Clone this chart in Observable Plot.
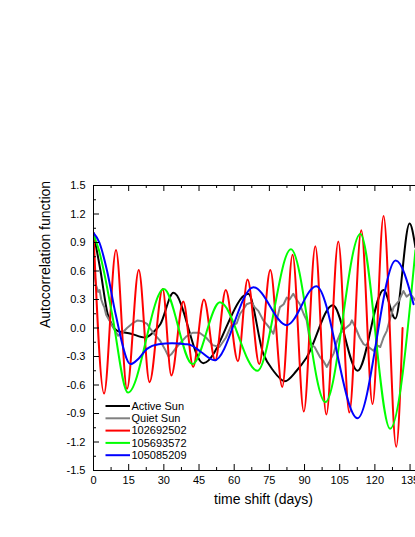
<!DOCTYPE html>
<html>
<head>
<meta charset="utf-8">
<script src="https://cdn.jsdelivr.net/npm/d3@7"></script>
<script src="https://cdn.jsdelivr.net/npm/@observablehq/plot@0.6"></script>
<style>
  html, body { margin: 0; padding: 0; background: #fff; overflow: hidden; }
  #chart svg { display: block; max-width: none !important; }
</style>
</head>
<body>
<div id="chart"></div>
<script>
// ---- Series: time shift (days) and autocorrelation values ----
const activeDays = [0, 3.0, 6.0, 8.0, 10.2, 16.0, 22.0, 25.7, 28.5, 34.1, 46.8, 66.0, 72.4, 76.7, 81.6, 86.6, 90.9, 102.1, 112.6, 123.7, 128.7, 134.8, 137.3];
const activeVals = [1.0, 0.6, 0.15, 0.03, -0.03, -0.06, -0.10, -0.04, 0.04, 0.37, -0.37, 0.36, -0.27, -0.45, -0.56, -0.45, -0.31, 0.24, -0.45, 0.40, 0.10, 1.10, 0.85];

const quietDays = [0, 0.5, 1.1, 2.0, 2.6, 3.3, 4.0, 4.6, 5.4, 6.3, 7.0, 8.5, 10.5, 12.3, 14.3, 16.7, 18.8, 20.9, 23.0, 24.0, 26.1, 28.3, 30.4, 32.0, 33.4, 35.2, 37.3, 39.5, 42.3, 45.2, 48.0, 50.8, 53.7, 56.5, 58.6, 61.1, 62.5, 64.0, 65.3, 67.4, 68.7, 70.3, 72.4, 73.8, 75.1, 76.7, 78.1, 79.5, 81.1, 82.4, 83.6, 85.2, 86.6, 88.0, 89.6, 90.9, 92.5, 94.3, 96.7, 98.1, 99.5, 101.1, 102.4, 103.7, 105.2, 106.6, 108.1, 109.5, 110.2, 111.8, 113.5, 115.2, 117.3, 119.4, 120.7, 122.3, 123.7, 125.1, 126.5, 128.0, 130.1, 132.2, 133.5, 135.1, 137.3];
const quietVals = [0.9, 0.55, 0.45, 0.38, 0.40, 0.30, 0.25, 0.22, 0.14, 0.10, 0.07, 0.00, -0.08, -0.05, 0.00, 0.05, 0.08, 0.07, 0.04, 0.00, -0.07, -0.13, -0.22, -0.30, -0.27, -0.21, -0.15, -0.09, -0.05, -0.05, -0.10, -0.18, -0.20, -0.10, 0.02, 0.05, 0.15, 0.20, 0.25, 0.27, 0.22, 0.18, 0.08, 0.04, 0.00, -0.06, 0.08, 0.22, 0.25, 0.32, 0.30, 0.36, 0.30, 0.25, 0.15, 0.08, -0.17, -0.20, -0.31, -0.35, -0.41, -0.33, -0.27, -0.15, -0.06, -0.02, 0.01, 0.04, 0.08, 0.00, -0.10, -0.17, -0.20, -0.24, -0.18, -0.20, -0.10, -0.03, 0.10, 0.22, 0.28, 0.39, 0.33, 0.36, 0.29];

const redDays = [0, 4.5, 9.6, 14.3, 19.3, 23.9, 29.5, 33.2, 38.3, 42.5, 47.1, 51.9, 56.4, 61.6, 65.7, 70.7, 75.4, 80.5, 84.9, 89.7, 94.6, 99.3, 104.4, 109.1, 114.2, 119.0, 123.7, 129.1, 131.8];
const redVals = [1.0, -0.69, 0.82, -0.64, 0.61, -0.57, 0.41, -0.50, 0.28, -0.41, 0.30, -0.34, 0.40, -0.35, 0.51, -0.38, 0.61, -0.62, 0.77, -0.88, 0.86, -0.91, 0.91, -0.89, 1.03, -0.80, 1.18, -1.25, 0.0];

const greenDays = [0, 2.3, 4.4, 7.9, 14.7, 30.0, 42.2, 53.9, 69.9, 84.2, 98.9, 113.8, 126.5, 137.3];
const greenVals = [0.98, 0.82, 0.60, 0.15, -0.68, 0.41, -0.38, 0.27, -0.45, 0.83, -0.78, 0.99, -1.06, 0.82];

const blueDays = [0, 2.5, 5.8, 9.4, 15.8, 19.3, 22.8, 27.8, 33.5, 39.2, 41.5, 45.7, 51.6, 68.2, 82.4, 95.0, 112.6, 128.9, 136.5];
const blueVals = [1.0, 0.90, 0.60, 0.15, -0.38, -0.32, -0.22, -0.17, -0.16, -0.17, -0.18, -0.25, -0.34, 0.43, 0.03, 0.44, -0.95, 0.71, 0.25];

const seriesNames = ["Active Sun", "Quiet Sun", "102692502", "105693572", "105085209"];
const seriesColors = ["#000000", "#808080", "#ff0000", "#00ff00", "#0000ff"];

// ---- Axis ticks ----
const xMajor = [0, 15, 30, 45, 60, 75, 90, 105, 120, 135];
const xMinor = [7.5, 22.5, 37.5, 52.5, 67.5, 82.5, 97.5, 112.5, 127.5, 142.5];
const yMajor = [-1.5, -1.2, -0.9, -0.6, -0.3, 0, 0.3, 0.6, 0.9, 1.2, 1.5];
const yMinor = [-1.35, -1.05, -0.75, -0.45, -0.15, 0.15, 0.45, 0.75, 1.05, 1.35];

const xTitle = "time shift (days)";
const yTitle = "Autocorrelation function";

// ---- Build rows ----
const seriesDays = [activeDays, quietDays, redDays, greenDays, blueDays];
const seriesVals = [activeVals, quietVals, redVals, greenVals, blueVals];
const rows = seriesNames.map((name, i) =>
  seriesDays[i].map((d, j) => ({series: name, day: d, value: seriesVals[i][j]}))
);

const W = 460, H = 537, ML = 93, MR = 27, MT = 185, MB = 67;
const PW = W - ML - MR, PH = H - MT - MB;
const font = "'Liberation Sans', Arial, Helvetica, sans-serif";

const chart = Plot.plot({
  width: W, height: H,
  marginLeft: ML, marginRight: MR, marginTop: MT, marginBottom: MB,
  style: {background: "#fff", color: "#000", fontFamily: font, fontSize: "11px"},
  x: {domain: [0, 145], label: null},
  y: {domain: [-1.5, 1.5], label: null},
  marks: [
    ...rows.map((r, i) => Plot.line(r, {
      x: "day", y: "value", stroke: seriesColors[i],
      strokeWidth: 2,
      curve: i === 1 ? "linear" : "monotone-x",
      clip: true
    })),
    Plot.frame({stroke: "#000", strokeWidth: 1}),
    // inward ticks: bottom, top, left
    Plot.tickX(xMajor, {x: d => d, insetTop: PH - 6, stroke: "#000"}),
    Plot.tickX(xMinor, {x: d => d, insetTop: PH - 3, stroke: "#000"}),
    Plot.tickX(xMajor, {x: d => d, insetBottom: PH - 6, stroke: "#000"}),
    Plot.tickX(xMinor, {x: d => d, insetBottom: PH - 3, stroke: "#000"}),
    Plot.tickY(yMajor, {y: d => d, insetRight: PW - 6, stroke: "#000"}),
    Plot.tickY(yMinor, {y: d => d, insetRight: PW - 3, stroke: "#000"}),
    Plot.axisX(xMajor, {tickSize: 0, tickPadding: 6, tickFormat: d => String(d), label: null, fontSize: 11}),
    Plot.axisY(yMajor, {tickSize: 0, tickPadding: 8, tickFormat: d => d.toFixed(1), label: null, fontSize: 11}),
    Plot.text([xTitle], {text: d => d, frameAnchor: "bottom", dy: 33, fontSize: 14}),
    Plot.text([yTitle], {text: d => d, frameAnchor: "left", dx: -48, rotate: -90, fontSize: 14})
  ]
});

// ---- Legend (inside plot, lower left) ----
const svg = d3.select(chart);
const lg = svg.append("g").attr("font-family", font).attr("font-size", 11).attr("text-anchor", "start");
seriesNames.forEach((name, i) => {
  const y = 406 + i * 12.3;
  lg.append("line").attr("x1", 105.5).attr("x2", 130).attr("y1", y).attr("y2", y)
    .attr("stroke", seriesColors[i]).attr("stroke-width", 2);
  lg.append("text").attr("x", 131.5).attr("y", y).attr("dy", "0.35em")
    .attr("text-anchor", "start").attr("fill", "#000").text(name);
});

document.getElementById("chart").appendChild(chart);
</script>
</body>
</html>
